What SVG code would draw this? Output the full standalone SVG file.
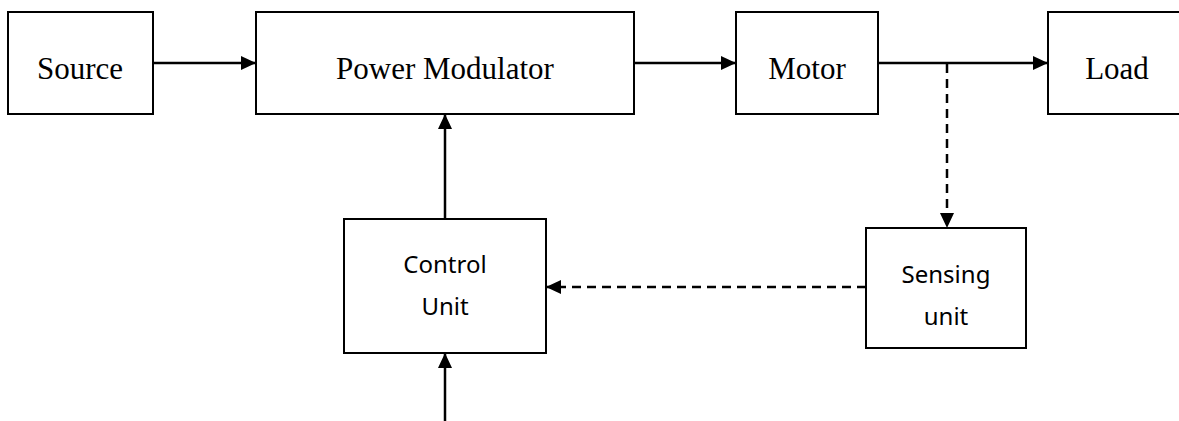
<svg xmlns="http://www.w3.org/2000/svg" width="1179" height="421" viewBox="0 0 1179 421">
  <style>
    .box { fill: #ffffff; stroke: #000000; stroke-width: 2; }
    .serif { font-family: "Liberation Serif", "Times New Roman", serif; font-size: 31px; fill: #000000; text-anchor: middle; }
    .sans { font-family: "Noto Sans", "Open Sans", sans-serif; font-size: 24px; fill: #000000; text-anchor: middle; }
    .wire { fill: none; stroke: #000000; stroke-width: 2.5; }
    .dash { stroke-dasharray: 9 6; }
  </style>
  <defs>
    <marker id="arrow" markerUnits="userSpaceOnUse" markerWidth="16" markerHeight="16" viewBox="0 0 16 16" refX="15" refY="8" orient="auto">
      <path d="M0,1 L15,8 L0,15 Z" fill="#000000"/>
    </marker>
  </defs>

  <!-- connectors -->
  <g id="connectors">
    <line class="wire" x1="153" y1="63" x2="256" y2="63" marker-end="url(#arrow)"/>
    <line class="wire" x1="634" y1="63" x2="736" y2="63" marker-end="url(#arrow)"/>
    <line class="wire" x1="878" y1="63" x2="1048" y2="63" marker-end="url(#arrow)"/>
    <line class="wire dash" x1="947" y1="64" x2="947" y2="228" marker-end="url(#arrow)"/>
    <line class="wire dash" x1="866" y1="287" x2="546" y2="287" marker-end="url(#arrow)"/>
    <line class="wire" x1="445" y1="219" x2="445" y2="114" marker-end="url(#arrow)"/>
    <line class="wire" x1="445" y1="421" x2="445" y2="353" marker-end="url(#arrow)"/>
  </g>

  <!-- nodes -->
  <g id="source">
    <rect class="box" x="8" y="12" width="145" height="102"/>
    <text class="serif" x="80" y="79">Source</text>
  </g>
  <g id="power-modulator">
    <rect class="box" x="256" y="12" width="378" height="102"/>
    <text class="serif" x="445" y="79">Power Modulator</text>
  </g>
  <g id="motor">
    <rect class="box" x="736" y="12" width="142" height="102"/>
    <text class="serif" x="807" y="79">Motor</text>
  </g>
  <g id="load">
    <rect class="box" x="1048" y="12" width="160" height="102"/>
    <text class="serif" x="1117" y="79">Load</text>
  </g>
  <g id="control-unit">
    <rect class="box" x="344" y="219" width="202" height="134"/>
    <text class="sans" x="445" y="273">Control</text>
    <text class="sans" x="445" y="315">Unit</text>
  </g>
  <g id="sensing-unit">
    <rect class="box" x="866" y="228" width="160" height="120"/>
    <text class="sans" x="946" y="283">Sensing</text>
    <text class="sans" x="946" y="325">unit</text>
  </g>
</svg>
